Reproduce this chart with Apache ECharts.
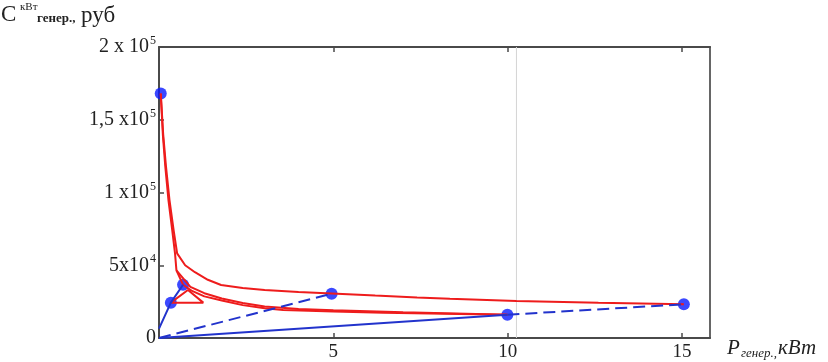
<!DOCTYPE html>
<html>
<head>
<meta charset="utf-8">
<script src="https://cdn.jsdelivr.net/npm/echarts@6/dist/echarts.min.js"></script>
<style>
html,body{margin:0;padding:0;background:#fff;}
#c{width:828px;height:362px;}
</style>
</head>
<body>
<div id="c"></div>
<script>
// ---- data ----
var xTicks = [5, 10, 15];
var yTickLabels = {0: '0', 50000: '5x10{sup|4}', 100000: '1 x10{sup|5}', 150000: '1,5 x10{sup|5}', 200000: '2 x 10{sup|5}'};

var redOuter = [[0.05,168000],[0.12,140000],[0.2,118000],[0.3,95000],[0.42,74000],[0.52,58200],[0.75,50000],[1.03,45200],[1.4,40000],[1.78,36400],[2.4,34300],[3.03,33000],[4.0,31600],[4.95,30600],[6.2,29200],[7.4,27900],[8.34,27000],[10.25,25500],[12.6,24200],[15.05,23160]];
var redInner = [[0.05,168000],[0.11,140000],[0.18,118000],[0.27,95000],[0.38,74000],[0.46,58000],[0.5,46500],[0.69,36600],[0.93,32600],[1.3,28600],[1.8,25800],[2.4,22600],[3.03,20400],[3.56,19300],[5.0,18200],[6.43,17400],[8.2,16700],[9.99,16000]];
var redBand = [[0.5,46500],[0.9,35200],[1.3,30800],[1.8,27200],[2.4,24000],[3.03,21700],[4.0,20000],[5.0,19000],[7.0,17700],[9.99,16000]];
var redTriangle = [[0.34,24300],[1.27,24300],[0.83,33000]];

var blueSolidTop = [[0,6500],[0.34,24300],[0.69,36600]];
var blueDashTo5 = [[0,0],[4.95,30400]];
var blueSolidTo10 = [[0,0],[9.99,16000]];
var blueDash10to15 = [[9.99,16000],[15.05,23160]];
var dots = [[0.05,168000],[0.34,24300],[0.69,36600],[4.95,30400],[9.99,16000],[15.05,23160]];
var refLineX = [[10.25,0],[10.25,200000]];

// ---- chart ----
var chart = echarts.init(document.getElementById('c'), null, {renderer:'canvas'});
var serif = '"Liberation Serif", "DejaVu Serif", serif';
var red = '#ee1c1c', blue = '#2233cc';

function lineSeries(data, color, dashed, width) {
  return {type:'line', data:data, symbol:'none', silent:true, animation:false,
    lineStyle:{color:color, width:width||2, type: dashed ? [12,6] : 'solid'}};
}

chart.setOption({
  animation:false,
  grid:{left:159, top:47, right:118, bottom:24},
  xAxis:[{
    type:'value', min:0, max:15.8, interval:5,
    axisLine:{show:true, onZero:false, lineStyle:{color:'#4a4a4a', width:2}},
    axisTick:{show:true, inside:true, length:5, lineStyle:{color:'#4a4a4a', width:1.5},
      customValues: xTicks},
    axisLabel:{show:true, margin:5, fontFamily:serif, fontSize:19, color:'#222',
      customValues: xTicks,
      formatter:function(v){ return xTicks.indexOf(v) >= 0 ? String(v) : ''; }},
    splitLine:{show:false}
  },{
    type:'value', position:'top', min:0, max:15.8, interval:5,
    axisLine:{show:true, onZero:false, lineStyle:{color:'#4a4a4a', width:2}},
    axisTick:{show:true, inside:true, length:5, lineStyle:{color:'#4a4a4a', width:1.5}, customValues: xTicks},
    axisLabel:{show:false}, splitLine:{show:false}
  }],
  yAxis:[{
    type:'value', min:0, max:200000, interval:50000,
    axisLine:{show:true, onZero:false, lineStyle:{color:'#4a4a4a', width:2}},
    axisTick:{show:true, inside:true, length:5, lineStyle:{color:'#4a4a4a', width:1.5}},
    axisLabel:{show:true, margin:3, fontFamily:serif, fontSize:20, color:'#222',
      formatter:function(v){ return yTickLabels[v] || ''; },
      rich:{sup:{fontFamily:serif, fontSize:12, color:'#222', verticalAlign:'top', padding:[0,0,12,1]}}},
    splitLine:{show:false}
  },{
    type:'value', position:'right', min:0, max:200000,
    axisLine:{show:true, onZero:false, lineStyle:{color:'#666', width:2}},
    axisTick:{show:false}, axisLabel:{show:false}, splitLine:{show:false}
  }],
  series:[
    lineSeries(refLineX, '#d4d4d4', false, 1),
    lineSeries(redOuter, red, false, 2),
    lineSeries(redInner, red, false, 2),
    lineSeries(redBand, red, false, 2),
    lineSeries(redTriangle.concat([redTriangle[0]]), red, false, 2),
    lineSeries(blueSolidTop, blue, false, 2),
    lineSeries(blueDashTo5, blue, true, 2),
    lineSeries(blueSolidTo10, blue, false, 2),
    lineSeries(blueDash10to15, blue, true, 2),
    {type:'scatter', data:dots, symbol:'circle', symbolSize:12, silent:true,
      itemStyle:{color:'#0a1aff'}}
  ],
  graphic:[
    {type:'text', left:1, top:3, style:{text:'C', font:'23px ' + serif, fill:'#222'}},
    {type:'text', left:20, top:2, style:{text:'кВт', font:'11px ' + serif, fill:'#222'}},
    {type:'text', left:37, top:12, style:{text:'генер.,', font:'bold 13px ' + serif, fill:'#222'}},
    {type:'text', left:81, top:4, style:{text:'руб', font:'23px ' + serif, fill:'#222'}},
    {type:'text', left:727, top:338, style:{text:'P', font:'italic 21px ' + serif, fill:'#222'}},
    {type:'text', left:741, top:347, style:{text:'генер.,', font:'italic 13px ' + serif, fill:'#222'}},
    {type:'text', left:778, top:338, style:{text:'кВт', font:'italic 21px ' + serif, fill:'#222'}}
  ]
});
</script>
</body>
</html>
